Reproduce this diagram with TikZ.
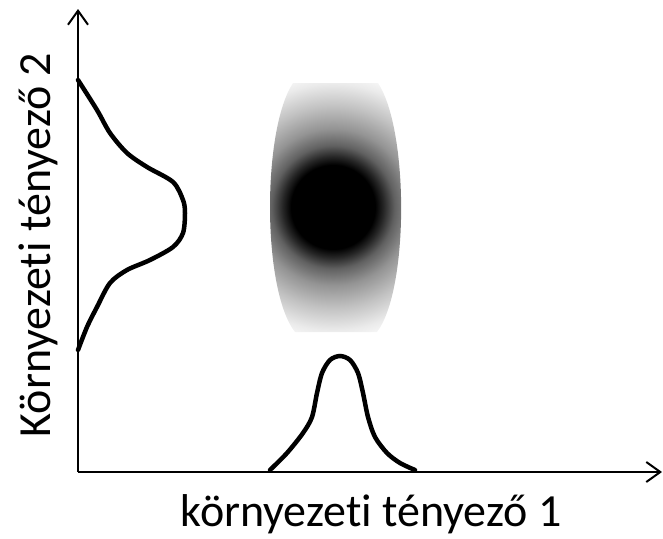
\documentclass[tikz,border=0pt]{standalone}
\usepackage{fontspec}
\setmainfont{Carlito}[Ligatures=NoCommon]
\usetikzlibrary{arrows.meta}
\pgfdeclareradialshading{folt}{\pgfpoint{0bp}{0bp}}{color(0bp)=(black); color(7.5bp)=(black); color(9bp)=(black!85); color(11bp)=(black!62); color(14bp)=(black!42); color(18bp)=(black!24); color(22bp)=(black!8); color(25bp)=(white); color(50bp)=(white)}
\tikzset{
  tengely/.style={line width=2pt, -{Straight Barb[length=14pt,width=20pt]}},
  gorbe/.style={line width=4.5pt, line cap=round},
  felirat/.style={font=\fontsize{46}{50}\selectfont, inner sep=0pt}
}
\begin{document}
\begin{tikzpicture}[x=1pt,y=-1pt]
    \useasboundingbox (0,0) rectangle (663,538);
    % tengelyek
    \coordinate (O) at (78,472);
    \coordinate (X) at (662,472);
    \coordinate (Y) at (78,9);
    \draw[tengely] (O) -- (X);
    \draw[tengely] (O) -- (Y);
    % folt
    \begin{scope}
        \clip (293,83) -- (378,83) .. controls (409,130) and (409,290) .. (377,332)
              -- (295,332) .. controls (262,290) and (262,130) .. (293,83) -- cycle;
        \shade[shading=folt] (333,207) circle (140);
    \end{scope}
    % eloszlasok
    \draw[gorbe] plot[smooth] coordinates {(78,80) (97,110) (110,133) (127,153) (147,167) (173,182)
        (183,200) (185,213) (183,233) (173,247) (150,260) (127,270) (110,283) (97,307) (87,327) (78,350)};
    \draw[gorbe] plot[smooth] coordinates {(270,470) (287,453) (303,433) (312,417) (317,393) (322,373)
        (330,360) (340,356) (350,360) (358,373) (363,393) (368,417) (375,437) (387,453) (400,463) (415,470)};
    % feliratok
    \node[felirat, anchor=base] (xfel) at (371,526) {környezeti tényező 1};
    \node[felirat, anchor=base, rotate=90] (yfel) at (50,245) {Környezeti tényező 2};
\end{tikzpicture}
\end{document}
